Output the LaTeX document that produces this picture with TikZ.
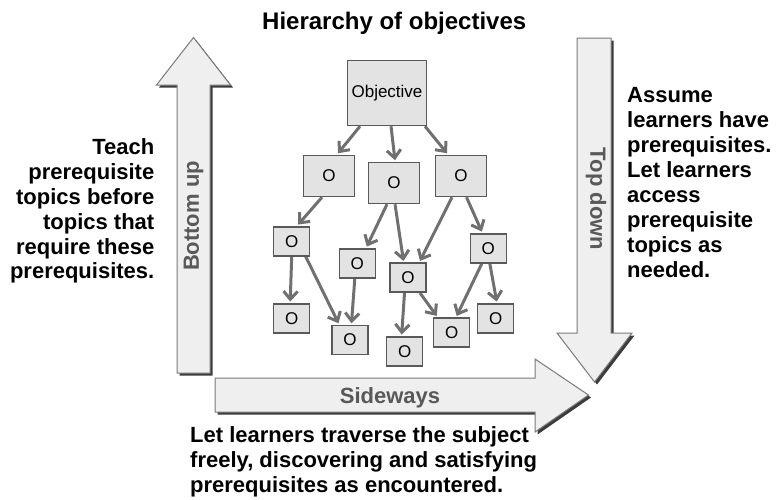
\documentclass[tikz,border=0pt]{standalone}
\usepackage{fontspec}
\setmainfont{Liberation Sans}
\usetikzlibrary{arrows.meta}
\pgfdeclarelayer{bg}
\pgfsetlayers{bg,main}
\definecolor{boxfill}{HTML}{E3E3E3}
\definecolor{boxline}{HTML}{595959}
\definecolor{linkgray}{HTML}{707070}
\definecolor{arrowfill}{HTML}{EFEFEF}
\definecolor{arrowline}{HTML}{7A7A7A}
\definecolor{shadowgray}{HTML}{3C3C3C}
\definecolor{labelgray}{HTML}{595959}

% outlines of the three broad arrows (y grows downwards)
\newcommand{\shapeUp}[1]{\path[#1] (193.5,37.5) -- (230.5,85) -- (210,85) -- (210,373)
  -- (177,373) -- (177,85) -- (156.5,85) -- cycle;}
\newcommand{\shapeDown}[1]{\path[#1] (577,38) -- (611,38) -- (611,333) -- (632,333)
  -- (594.5,382) -- (557,333) -- (577,333) -- cycle;}
\newcommand{\shapeSide}[1]{\path[#1] (215,378) -- (535,378) -- (535,359) -- (588.5,395)
  -- (535,432) -- (535,412) -- (215,412) -- cycle;}

\begin{document}
\begin{tikzpicture}[x=1pt,y=-1pt,
  topic/.style={draw=boxline, fill=boxfill, line width=1.5pt, inner sep=0pt,
    minimum width=36pt, minimum height=29pt, font=\fontsize{17}{17}\selectfont},
  bigtopic/.style={topic, minimum width=51pt, minimum height=41pt},
  link/.style={draw=linkgray, line width=3pt,
    -{Straight Barb[length=8pt,width=14pt]}},
  bigarrow/.style={fill=arrowfill, draw=arrowline, line width=1pt},
  arrowshadow/.style={fill=shadowgray, shift={(2.5,2.5)}},
  arrowlabel/.style={text=labelgray, font=\bfseries\fontsize{22}{22}\selectfont, inner sep=0pt},
  note/.style={inner sep=0pt, font=\bfseries\fontsize{22}{24.9}\selectfont},
]
\useasboundingbox (0,0) rectangle (778,499);

% broad arrows with drop shadows
\shapeUp{arrowshadow}
\shapeUp{bigarrow}
\shapeDown{arrowshadow}
\shapeDown{bigarrow}
\shapeSide{arrowshadow}
\shapeSide{bigarrow}

\node[arrowlabel, rotate=90] (bottomup) at (193.5,216) {Bottom up};
\node[arrowlabel, rotate=-90] (topdown) at (596,199) {Top down};
\node[arrowlabel, anchor=base] (sideways) at (390,403.3) {Sideways};

% captions
\node[anchor=base west, inner sep=0pt, font=\bfseries\fontsize{24}{24}\selectfont]
  (title) at (262,29) {Hierarchy of objectives};
\node[note, anchor=north east, align=right] (bottomupnote) at (154.5,138.3)
  {Teach\\prerequisite\\topics before\\topics that\\require these\\prerequisites.};
\node[note, anchor=north west, align=left] (topdownnote) at (627,87.5)
  {Assume\\learners have\\prerequisites.\\Let learners\\access\\prerequisite\\topics as\\needed.};
\node[note, anchor=north west, align=left, font=\bfseries\fontsize{22}{25.3}\selectfont]
  (sidewaysnote) at (190,426)
  {Let learners traverse the subject\\freely, discovering and satisfying\\prerequisites as encountered.};

% hierarchy of objectives
\node[bigtopic, minimum width=79pt, minimum height=65pt] (obj) at (387,93) {Objective};
\node[bigtopic] (o1) at (329,176) {O};
\node[bigtopic] (o2) at (394,183) {O};
\node[bigtopic] (o3) at (461,176) {O};
\node[topic] (a) at (291.7,241.3) {O};
\node[topic] (b) at (357.3,263.3) {O};
\node[topic] (c) at (408,277.7) {O};
\node[topic] (d) at (488.3,248.3) {O};
\node[topic] (e) at (291.7,318.3) {O};
\node[topic] (f) at (350,340) {O};
\node[topic] (g) at (404.7,351.3) {O};
\node[topic] (h) at (451.7,332.7) {O};
\node[topic] (i) at (495.7,318.3) {O};

\begin{pgfonlayer}{bg}
\draw[link] ([xshift=-27pt]obj.south) -- ([xshift=9pt,yshift=1.5pt]o1.north);
\draw[link] ([xshift=4pt]obj.south) -- ([xshift=1pt,yshift=1.5pt]o2.north);
\draw[link] ([xshift=38pt]obj.south) -- ([xshift=-14pt,yshift=1.5pt]o3.north);
\draw[link] ([xshift=-7pt]o1.south) -- ([xshift=6.5pt,yshift=1.5pt]a.north);
\draw[link] ([xshift=-7pt]o2.south) -- ([xshift=9.5pt,yshift=1.5pt]b.north);
\draw[link] ([xshift=1pt]o2.south) -- ([xshift=-4.5pt,yshift=1.5pt]c.north);
\draw[link] ([xshift=-9pt]o3.south) -- ([xshift=12pt,yshift=1.5pt]c.north);
\draw[link] ([xshift=5.5pt]o3.south) -- ([xshift=-6.5pt,yshift=1.5pt]d.north);
\draw[link] (a.south) -- ([xshift=-1.5pt,yshift=1.5pt]e.north);
\draw[link] ([xshift=14pt]a.south) -- ([xshift=-11.5pt,yshift=1.5pt]f.north);
\draw[link] ([xshift=-2.5pt]b.south) -- ([xshift=1.5pt,yshift=1.5pt]f.north);
\draw[link] ([xshift=-3.5pt]c.south) -- ([xshift=-3pt,yshift=1.5pt]g.north);
\draw[link] ([xshift=12pt]c.south) -- ([xshift=-15pt,yshift=1.5pt]h.north);
\draw[link] ([xshift=-6.5pt]d.south) -- ([xshift=5pt,yshift=1.5pt]h.north);
\draw[link] ([xshift=1.5pt]d.south) -- ([xshift=1pt,yshift=1.5pt]i.north);
\end{pgfonlayer}
\end{tikzpicture}
\end{document}
